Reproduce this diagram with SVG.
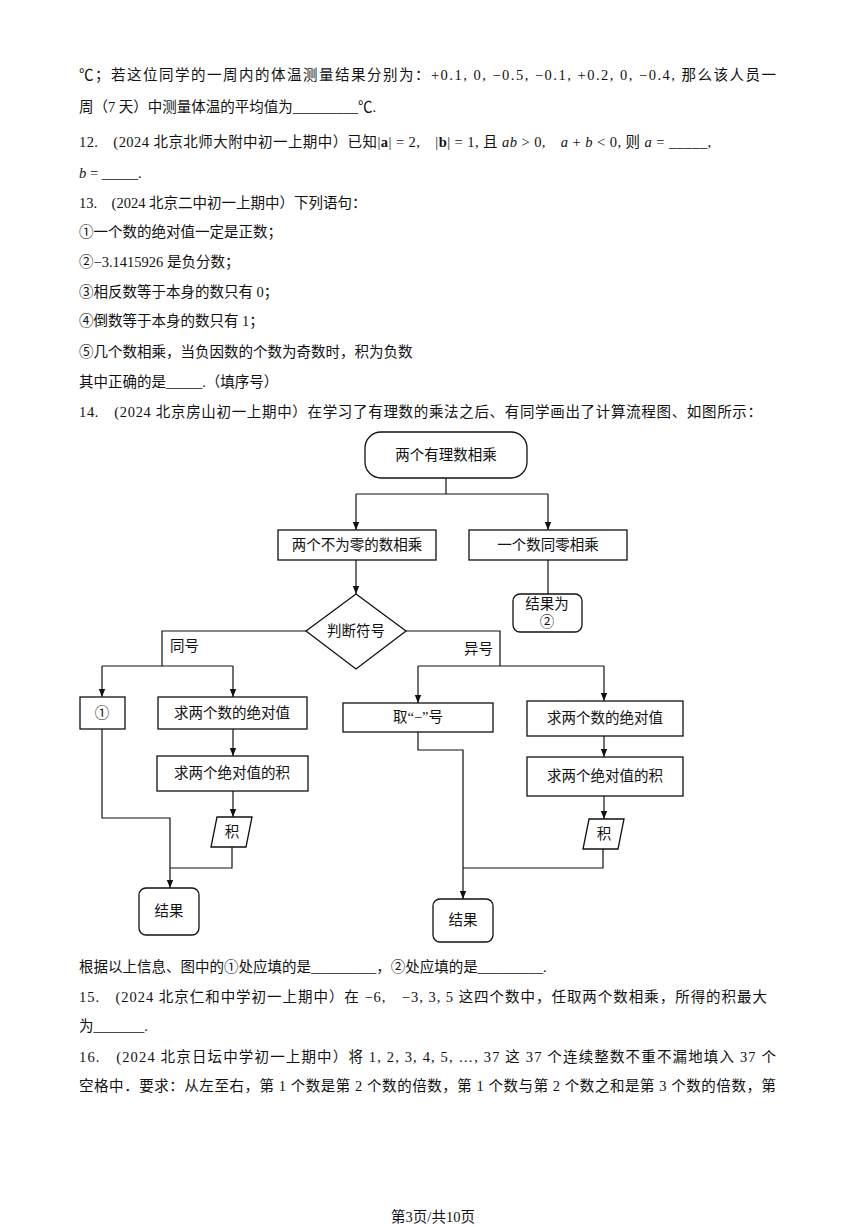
<svg xmlns="http://www.w3.org/2000/svg" width="867" height="1227" viewBox="0 0 867 1227">
<style>
text{font-family:"Liberation Serif","Noto Sans CJK SC",serif;font-size:14.5px;fill:#111}
.c{text-anchor:middle}
.b{fill:#fff;stroke:#111;stroke-width:1.3}
.l{fill:none;stroke:#111;stroke-width:1.2}
</style>
<defs><marker id="a" viewBox="0 0 10 10" refX="10" refY="5" markerWidth="7" markerHeight="7" orient="auto"><path d="M0,1 L10,5 L0,9 Z" fill="#111"/></marker></defs>
<rect width="867" height="1227" fill="#fff"/>
<g id="text">
<text x="79" y="80" textLength="697" lengthAdjust="spacing">℃；若这位同学的一周内的体温测量结果分别为：+0.1, 0, −0.5, −0.1, +0.2, 0, −0.4, 那么该人员一</text>
<text x="79" y="112">周（7 天）中测量体温的平均值为_________℃.</text>
<text x="79" y="147" textLength="632" lengthAdjust="spacing">12.　(2024 北京北师大附中初一上期中）已知|<tspan font-weight="bold">a</tspan>| = 2,　|<tspan font-weight="bold">b</tspan>| = 1, 且 <tspan font-style="italic">ab</tspan> &gt; 0,　<tspan font-style="italic">a</tspan> + <tspan font-style="italic">b</tspan> &lt; 0, 则 <tspan font-style="italic">a</tspan> = _____,</text>
<text x="79" y="178"><tspan font-style="italic">b</tspan> = _____.</text>
<text x="79" y="208">13.　(2024 北京二中初一上期中）下列语句：</text>
<text x="79" y="237">①一个数的绝对值一定是正数；</text>
<text x="79" y="267">②−3.1415926 是负分数；</text>
<text x="79" y="297">③相反数等于本身的数只有 0；</text>
<text x="79" y="326">④倒数等于本身的数只有 1；</text>
<text x="79" y="357">⑤几个数相乘，当负因数的个数为奇数时，积为负数</text>
<text x="79" y="387">其中正确的是_____.（填序号）</text>
<text x="79" y="417" textLength="683" lengthAdjust="spacing">14.　(2024 北京房山初一上期中）在学习了有理数的乘法之后、有同学画出了计算流程图、如图所示：</text>
<text x="79" y="972">根据以上信息、图中的①处应填的是_________，②处应填的是_________.</text>
<text x="79" y="1002" textLength="688" lengthAdjust="spacing">15.　(2024 北京仁和中学初一上期中）在 −6,　−3, 3, 5 这四个数中，任取两个数相乘，所得的积最大</text>
<text x="79" y="1031">为_______.</text>
<text x="79" y="1062" textLength="697" lengthAdjust="spacing">16.　(2024 北京日坛中学初一上期中）将 1, 2, 3, 4, 5, …, 37 这 37 个连续整数不重不漏地填入 37 个</text>
<text x="79" y="1091" textLength="697" lengthAdjust="spacing">空格中．要求：从左至右，第 1 个数是第 2 个数的倍数，第 1 个数与第 2 个数之和是第 3 个数的倍数，第</text>
<text x="433" y="1222" class="c" font-size="13">第3页/共10页</text>
</g>
<g id="connectors">
<path class="l" d="M446,478 V494 M356,494 H548"/>
<path class="l" d="M356,494 V530" marker-end="url(#a)"/>
<path class="l" d="M548,494 V530" marker-end="url(#a)"/>
<path class="l" d="M548,560 V594"/>
<path class="l" d="M356,560 V594" marker-end="url(#a)"/>
<path class="l" d="M306,631 H162 V666 M102,666 H233"/>
<path class="l" d="M102,666 V697" marker-end="url(#a)"/>
<path class="l" d="M233,666 V697" marker-end="url(#a)"/>
<path class="l" d="M406,631 H500 V666 M418,666 H604"/>
<path class="l" d="M418,666 V703" marker-end="url(#a)"/>
<path class="l" d="M604,666 V701" marker-end="url(#a)"/>
<path class="l" d="M233,729 V756" marker-end="url(#a)"/>
<path class="l" d="M604,736 V757" marker-end="url(#a)"/>
<path class="l" d="M233,791 V817" marker-end="url(#a)"/>
<path class="l" d="M604,796 V819" marker-end="url(#a)"/>
<path class="l" d="M102,729 V818 H170 V888" marker-end="url(#a)"/>
<path class="l" d="M232,847 V868 H170"/>
<path class="l" d="M418,732 V750 H463 V899" marker-end="url(#a)"/>
<path class="l" d="M603,849 V868 H463"/>
<text x="170" y="651">同号</text>
<text x="464" y="654">异号</text>
</g>
<g id="n1"><rect class="b" x="365" y="432" width="162" height="46" rx="16"/><text class="c" x="446" y="460">两个有理数相乘</text></g>
<g id="n2"><rect class="b" x="278" y="530" width="158" height="30"/><text class="c" x="357" y="550">两个不为零的数相乘</text></g>
<g id="n3"><rect class="b" x="469" y="530" width="158" height="30"/><text class="c" x="548" y="550">一个数同零相乘</text></g>
<g id="n4"><rect class="b" x="513" y="594" width="69" height="38" rx="7"/><text class="c" x="547" y="609">结果为</text><text class="c" x="547" y="627">②</text></g>
<g id="n5"><path class="b" d="M356,594 L406,631 L356,669 L306,631 Z"/><text class="c" x="356" y="636">判断符号</text></g>
<g id="n6"><rect class="b" x="80" y="697" width="45" height="32"/><text class="c" x="102" y="718">①</text></g>
<g id="n7"><rect class="b" x="158" y="697" width="149" height="32"/><text class="c" x="232" y="718">求两个数的绝对值</text></g>
<g id="n8"><rect class="b" x="343" y="703" width="150" height="29"/><text class="c" x="418" y="722">取“−”号</text></g>
<g id="n9"><rect class="b" x="527" y="701" width="156" height="35"/><text class="c" x="605" y="723">求两个数的绝对值</text></g>
<g id="n10"><rect class="b" x="157" y="756" width="151" height="35"/><text class="c" x="232" y="778">求两个绝对值的积</text></g>
<g id="n11"><rect class="b" x="527" y="757" width="156" height="39"/><text class="c" x="605" y="781">求两个绝对值的积</text></g>
<g id="n12"><path class="b" d="M217,817 H252 L246,847 H211 Z"/><text class="c" x="232" y="837">积</text></g>
<g id="n13"><path class="b" d="M589,819 H624 L618,849 H583 Z"/><text class="c" x="604" y="839">积</text></g>
<g id="n14"><rect class="b" x="139" y="888" width="60" height="47" rx="7"/><text class="c" x="169" y="916">结果</text></g>
<g id="n15"><rect class="b" x="433" y="899" width="60" height="43" rx="7"/><text class="c" x="463" y="925">结果</text></g>
</svg>
